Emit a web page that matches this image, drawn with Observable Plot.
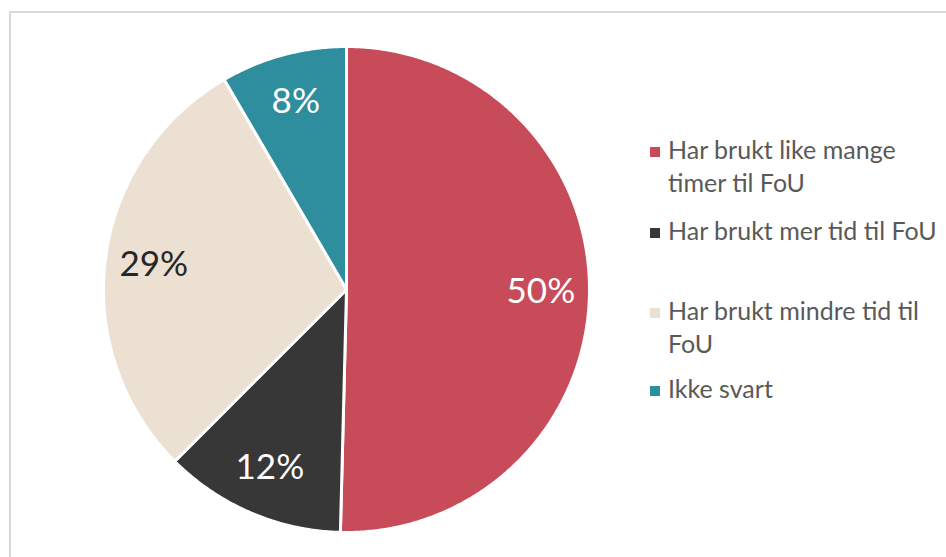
<!DOCTYPE html>
<html>
<head>
<meta charset="utf-8">
<script src="https://cdn.jsdelivr.net/npm/d3@7"></script>
<script src="https://cdn.jsdelivr.net/npm/@observablehq/plot@0.6"></script>
<style>
  html, body { margin: 0; padding: 0; background: #fff; overflow: hidden; }
  #wrap { position: relative; width: 946px; height: 557px; overflow: hidden; font-family: Lato, "Open Sans", sans-serif; }
  #frame { position: absolute; left: 9px; top: 11px; width: 1000px; height: 700px; border-left: 2px solid #d9d9d9; border-top: 2px solid #d9d9d9; box-sizing: border-box; }
  #chart { position: absolute; left: 0; top: 0; }
  .leg { position: absolute; left: 650px; width: 300px; font-size: 25px; line-height: 33px; color: #595959; padding-left: 18px; box-sizing: border-box; }
  .leg .sw { position: absolute; left: 0; top: 14px; width: 10px; height: 10px; }
</style>
</head>
<body>
<div id="wrap">
  <div id="frame"></div>
  <div id="chart"></div>
</div>
<script>
const categories = ["Har brukt like mange timer til FoU", "Har brukt mer tid til FoU", "Har brukt mindre tid til FoU", "Ikke svart"];
const values = [50.4, 12.1, 29.1, 8.4];
const labels = ["50%", "12%", "29%", "8%"];
const colors = ["#C84B5A", "#373737", "#EBE0D1", "#2E8E9E"];
const labelColors = ["#ffffff", "#ffffff", "#262626", "#ffffff"];

const total = d3.sum(values);
let acc = 0;
const slices = values.map((v, i) => {
  const a0 = acc / total * 2 * Math.PI;
  acc += v;
  const a1 = acc / total * 2 * Math.PI;
  return {category: categories[i], a0, a1, color: colors[i], label: labels[i], labelColor: labelColors[i]};
});

// polygon vertices for each slice (center -> arc -> center)
const pts = [];
for (const s of slices) {
  pts.push({category: s.category, x: 0, y: 0});
  const n = Math.max(2, Math.ceil((s.a1 - s.a0) / (Math.PI / 360)));
  for (let k = 0; k <= n; k++) {
    const a = s.a0 + (s.a1 - s.a0) * k / n;
    pts.push({category: s.category, x: Math.sin(a), y: Math.cos(a)});
  }
  pts.push({category: s.category, x: 0, y: 0});
}

const labelR = 0.8;
const labelData = slices.map(s => {
  const m = (s.a0 + s.a1) / 2;
  return {x: labelR * Math.sin(m), y: labelR * Math.cos(m), label: s.label, c: s.labelColor};
});

const chart = Plot.plot({
  width: 946,
  height: 557,
  marginLeft: 103,
  marginRight: 357,
  marginTop: 46,
  marginBottom: 25,
  x: {domain: [-1, 1], axis: null},
  y: {domain: [-1, 1], axis: null},
  color: {domain: categories, range: colors},
  style: {fontFamily: "Lato, 'Open Sans', sans-serif", background: "transparent", overflow: "visible"},
  marks: [
    Plot.line(pts, {x: "x", y: "y", z: "category", fill: "category", stroke: "#ffffff", strokeWidth: 3, strokeLinejoin: "round", curve: "linear"}),
    Plot.text(labelData, {x: "x", y: "y", text: "label", fill: "c", fontSize: 35})
  ]
});
document.getElementById("chart").appendChild(chart);

// legend
const tops = [133, 214, 294, 372];
const wrap = document.getElementById("wrap");
categories.forEach((c, i) => {
  const d = document.createElement("div");
  d.className = "leg";
  d.style.top = tops[i] + "px";
  const sw = document.createElement("span");
  sw.className = "sw";
  sw.style.background = colors[i];
  d.appendChild(sw);
  d.appendChild(document.createTextNode(c));
  wrap.appendChild(d);
});
</script>
</body>
</html>
